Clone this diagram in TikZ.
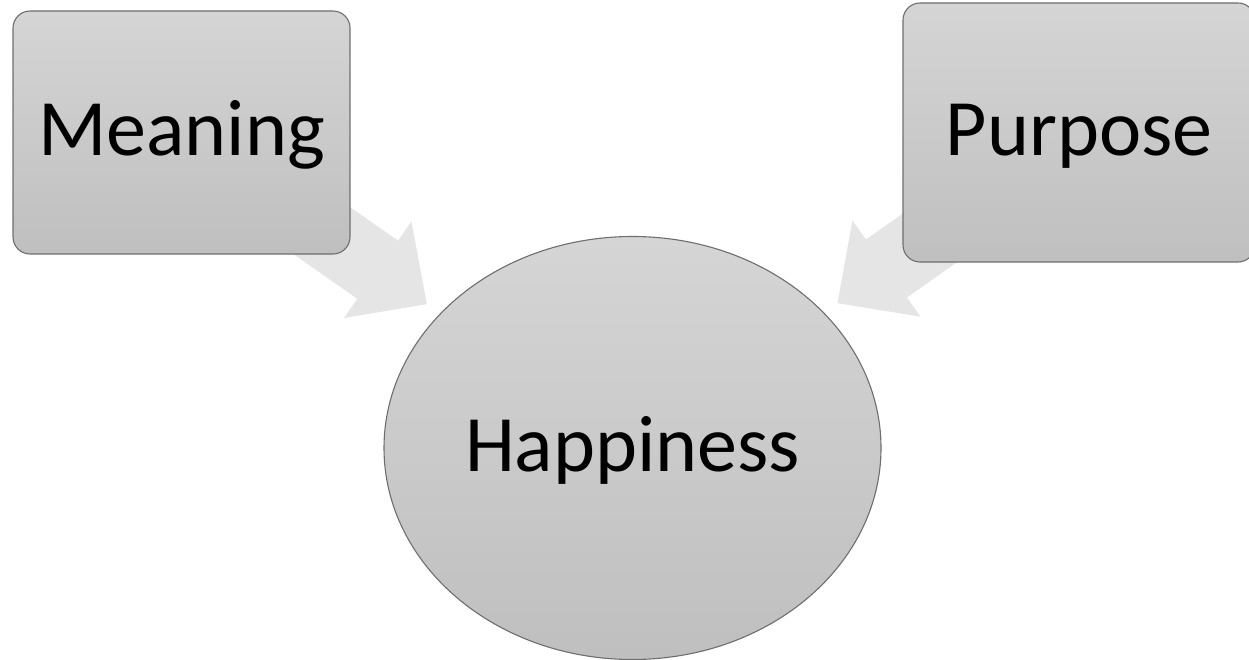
\documentclass[tikz,border=0pt]{standalone}
\usepackage{fontspec}
\setmainfont{Carlito}
\usetikzlibrary{calc,shapes.geometric,backgrounds}

\definecolor{boxtop}{HTML}{D5D5D5}
\definecolor{boxbot}{HTML}{BFBFBF}
\definecolor{boxline}{HTML}{6E6E6E}
\definecolor{arrowfill}{HTML}{E5E5E5}

\tikzset{
  bigtext/.style={font=\fontsize{80}{96}\selectfont, text height=47pt, text depth=0pt},
  box/.style={bigtext, draw=boxline, line width=1.1pt, top color=boxtop, bottom color=boxbot,
    rounded corners=17pt, inner sep=0pt},
  bubble/.style={bigtext, ellipse, draw=boxline, line width=1.1pt, top color=boxtop, bottom color=boxbot,
    inner sep=0pt},
}

\begin{document}
\begin{tikzpicture}[x=1pt,y=-1pt]

    % パラメータの定義
    \pgfmathsetmacro{\shaftw}{35.5}
    \pgfmathsetmacro{\headw}{59}
    \pgfmathsetmacro{\headl}{60}
    \pgfmathsetmacro{\gap}{251}

    \useasboundingbox (0,0) rectangle (1249,660);

    % ノードの定義
    \node[box, minimum width=337pt, minimum height=243pt] (meaning) at (181.5,132.5) {Meaning};
    \node[box, minimum width=352pt, minimum height=259pt] (purpose) at (1079,132.5) {Purpose};
    \node[bubble, minimum width=497pt, minimum height=423pt] (happy) at (632.5,448) {Happiness};

    % 矢印の先端
    \coordinate (tipM) at ($(happy.center)!\gap pt!(meaning.center)$);
    \coordinate (baseM) at ($(tipM)!\headl pt!(meaning.center)$);
    \coordinate (tipP) at ($(happy.center)!\gap pt!(purpose.center)$);
    \coordinate (baseP) at ($(tipP)!\headl pt!(purpose.center)$);

    % 矢印の描画
    \begin{scope}[on background layer]
        \fill[arrowfill] ($(meaning.center)!\shaftw pt!90:(tipM)$)
            -- ($(baseM)!\shaftw pt!90:(tipM)$)
            -- ($(baseM)!\headw pt!90:(tipM)$)
            -- (tipM)
            -- ($(baseM)!\headw pt!-90:(tipM)$)
            -- ($(baseM)!\shaftw pt!-90:(tipM)$)
            -- ($(meaning.center)!\shaftw pt!-90:(tipM)$) -- cycle;
        \fill[arrowfill] ($(purpose.center)!\shaftw pt!90:(tipP)$)
            -- ($(baseP)!\shaftw pt!90:(tipP)$)
            -- ($(baseP)!\headw pt!90:(tipP)$)
            -- (tipP)
            -- ($(baseP)!\headw pt!-90:(tipP)$)
            -- ($(baseP)!\shaftw pt!-90:(tipP)$)
            -- ($(purpose.center)!\shaftw pt!-90:(tipP)$) -- cycle;
    \end{scope}

\end{tikzpicture}
\end{document}
